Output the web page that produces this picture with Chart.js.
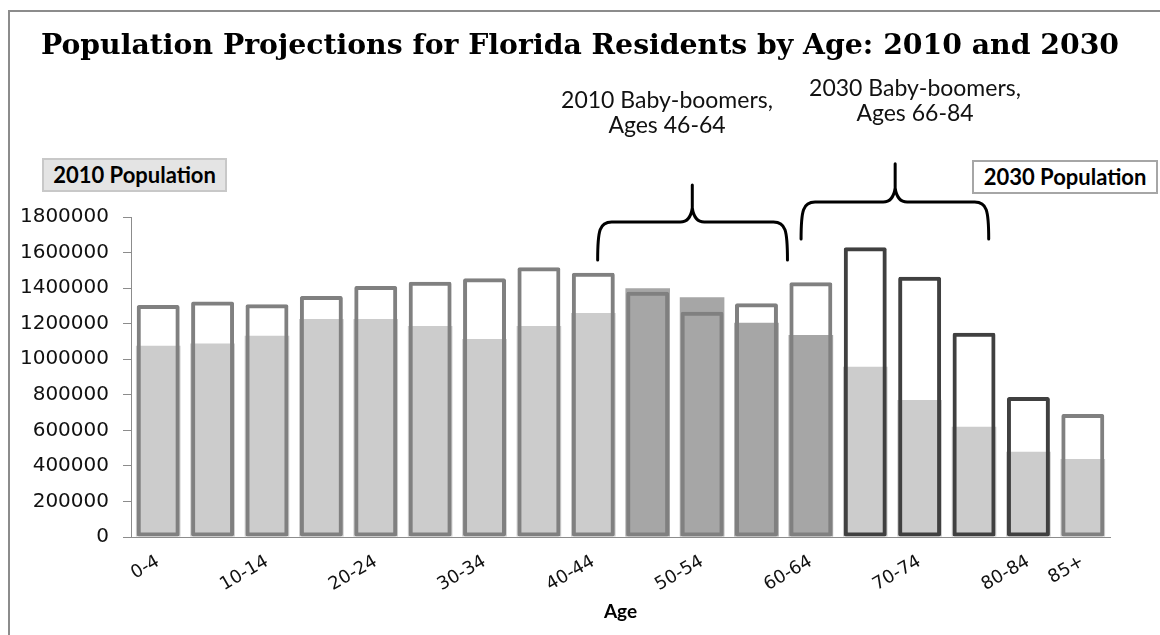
<!DOCTYPE html>
<html>
<head>
<meta charset="utf-8">
<script src="https://cdn.jsdelivr.net/npm/chart.js@4.4.1/dist/chart.umd.min.js"></script>
<style>
  body { margin: 0; background: #fff; }
  #wrap { position: relative; width: 1160px; height: 635px; overflow: hidden; }
  #frame { position: absolute; left: 8px; top: 10px; width: 1170px; height: 660px; border: 2px solid #8c8c8c; }
  #title { position: absolute; left: 0; width: 1160px; top: 27px; text-align: center;
    font: bold 28.3px "DejaVu Serif", serif; color: #000; }
  .note { position: absolute; text-align: center; font: 23px Lato, sans-serif; line-height: 25px; color: #111; }
  .box { position: absolute; font: bold 22px Lato, sans-serif; color: #000; text-align: center; line-height: 30px; }
  canvas { position: absolute; left: 0; top: 0; }
</style>
</head>
<body>
<div id="wrap">
  <div id="frame"></div>
  <canvas id="chart" width="1160" height="635"></canvas>
  <div id="title">Population Projections for Florida Residents by Age: 2010 and 2030</div>
  <div class="note" style="left:557px; top:87px; width:220px;">2010 Baby-boomers,<br>Ages 46-64</div>
  <div class="note" style="left:805px; top:75px; width:220px;">2030 Baby-boomers,<br>Ages 66-84</div>
  <div class="box" style="left:42px; top:158px; width:181px; height:30px; background:#e4e4e4; border:2px solid #c8c8c8;">2010 Population</div>
  <div class="box" style="left:972px; top:160px; width:182px; height:30px; background:#fff; border:2px solid #a6a6a6;">2030 Population</div>
</div>
<script>
// age groups
const ageGroups = ['0-4', '5-9', '10-14', '15-19', '20-24', '25-29', '30-34', '35-39', '40-44',
  '45-49', '50-54', '55-59', '60-64', '65-69', '70-74', '75-79', '80-84', '85+'];

const pop2010 = [1076000, 1089000, 1132000, 1226000, 1226000, 1187000, 1114000, 1187000, 1260000,
  1399000, 1348000, 1205000, 1136000, 958000, 771000, 620000, 480000, 439000];

const pop2030 = [1305000, 1324000, 1309000, 1356000, 1412000, 1436000, 1455000, 1517000, 1487000,
  1380000, 1267000, 1315000, 1433000, 1630000, 1464000, 1149000, 787000, 692000];

const yTicks = [0, 200000, 400000, 600000, 800000, 1000000, 1200000, 1400000, 1600000, 1800000];

// baby boomer groups in each year
const boomers2010 = ['45-49', '50-54', '55-59', '60-64'];
const boomers2030 = ['65-69', '70-74', '75-79', '80-84'];

const fill2010 = ageGroups.map(a => boomers2010.includes(a) ? '#a6a6a6' : '#cccccc');
const line2030 = ageGroups.map(a => boomers2030.includes(a) ? '#404040' : '#808080');

// brace anchors: [left idx, right idx, peak idx, end value, bar value, peak value]
const braceSpots = [
  [8.08, 11.57, 9.82, 1558000, 1772000, 1980000],
  [11.82, 15.27, 13.55, 1676000, 1884000, 2100000]
];

const bracePlugin = {
  id: 'braces',
  afterDatasetsDraw(chart) {
    const ctx = chart.ctx;
    const xs = chart.scales.x, ys = chart.scales.y;
    ctx.save();
    ctx.strokeStyle = '#000';
    ctx.lineWidth = 3;
    ctx.lineCap = 'round';
    braceSpots.forEach(function (b) {
      const x0 = xs.getPixelForValue(b[0]);
      const x1 = xs.getPixelForValue(b[1]);
      const xp = xs.getPixelForValue(b[2]);
      const yEnd = ys.getPixelForValue(b[3]);
      const yH = ys.getPixelForValue(b[4]);
      const yP = ys.getPixelForValue(b[5]);
      ctx.beginPath();
      ctx.moveTo(x0, yEnd);
      ctx.bezierCurveTo(x0, yH + 8, x0 + 2, yH, x0 + 14, yH);
      ctx.lineTo(xp - 12, yH);
      ctx.quadraticCurveTo(xp - 2, yH, xp, yH - 14);
      ctx.lineTo(xp, yP);
      ctx.moveTo(xp, yH - 14);
      ctx.quadraticCurveTo(xp + 2, yH, xp + 12, yH);
      ctx.lineTo(x1 - 14, yH);
      ctx.bezierCurveTo(x1 - 2, yH, x1, yH + 8, x1, yEnd);
      ctx.stroke();
    });
    ctx.restore();
  }
};

new Chart(document.getElementById('chart'), {
  type: 'bar',
  data: {
    labels: ageGroups,
    datasets: [{
      label: '2030 Population',
      data: pop2030,
      backgroundColor: 'rgba(0,0,0,0)',
      borderColor: line2030,
      borderWidth: 4,
      borderSkipped: false,
      borderRadius: 2,
      barPercentage: 0.79,
      categoryPercentage: 1,
      grouped: false,
      order: 0
    }, {
      label: '2010 Population',
      data: pop2010,
      backgroundColor: fill2010,
      borderWidth: 0,
      barPercentage: 0.82,
      categoryPercentage: 1,
      grouped: false,
      order: 1
    }]
  },
  options: {
    responsive: false,
    animation: false,
    layout: { padding: { left: 10, right: 50, top: 217, bottom: 0 } },
    plugins: {
      legend: { display: false },
      title: { display: false },
      tooltip: { enabled: false }
    },
    scales: {
      x: {
        afterFit: function (scale) { scale.height = 98; },
        grid: { display: true, drawOnChartArea: false, drawTicks: false },
        border: { display: true, color: '#8c8c8c', width: 1 },
        ticks: {
          autoSkip: false,
          minRotation: 30,
          maxRotation: 30,
          padding: 14,
          color: '#111',
          font: { family: 'DejaVu Sans', size: 18 },
          callback: function (value, index) {
            return (index % 2 === 0 || index === ageGroups.length - 1) ? ageGroups[index] : '';
          }
        },
        title: {
          display: true,
          text: 'Age',
          color: '#000',
          font: { family: 'Lato', size: 19, weight: 'bold' },
          padding: { top: 0, bottom: 12 }
        }
      },
      y: {
        min: 0,
        max: 1800000,
        afterFit: function (scale) { scale.width = 121; },
        afterBuildTicks: function (scale) { scale.ticks = yTicks.map(v => ({ value: v })); },
        grid: { display: true, drawOnChartArea: false, drawTicks: true, tickLength: 8, color: '#8c8c8c' },
        border: { display: true, color: '#8c8c8c', width: 1 },
        ticks: {
          padding: 14,
          color: '#111',
          font: { family: 'DejaVu Sans', size: 20 },
          callback: function (value) { return String(value); }
        }
      }
    }
  },
  plugins: [bracePlugin]
});
</script>
</body>
</html>
